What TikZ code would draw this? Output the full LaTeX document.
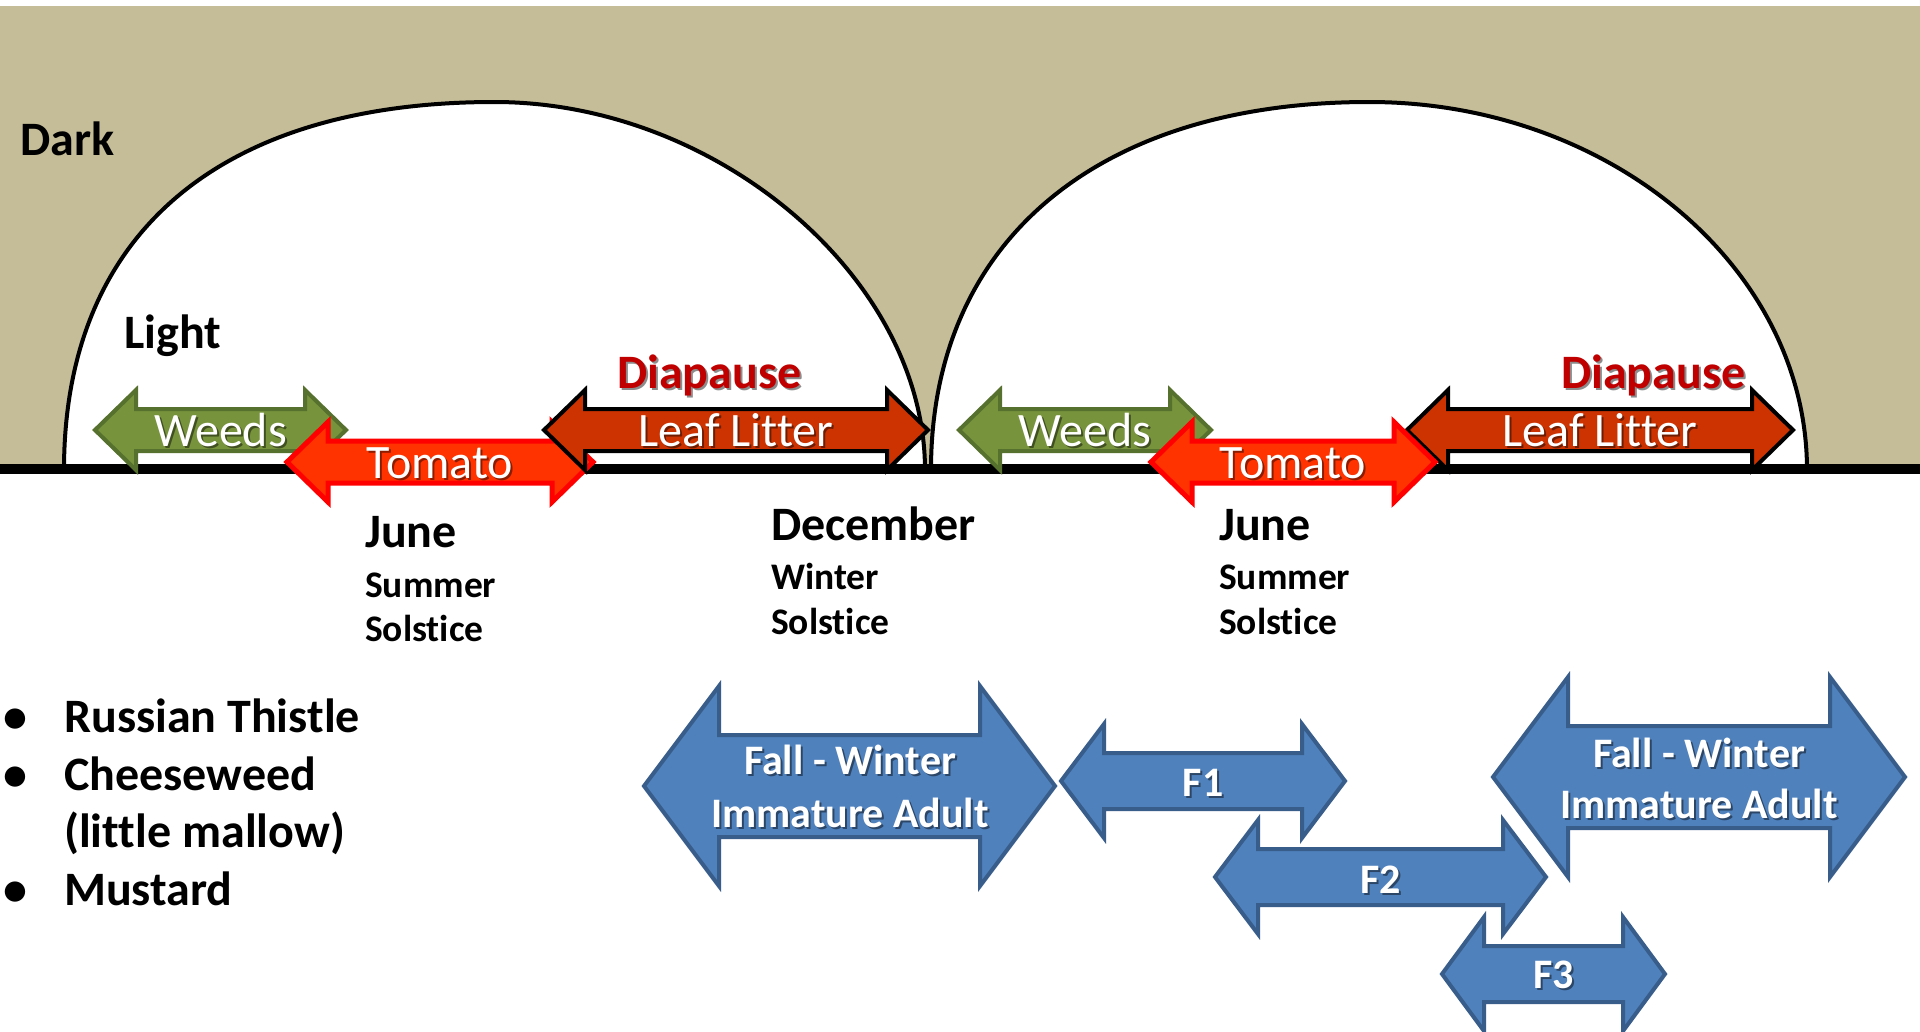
\documentclass[tikz,border=0pt]{standalone}
\usepackage{fontspec}
\setmainfont{Carlito}[Ligatures=NoCommon]
\definecolor{tanbg}{HTML}{C4BD97}
\definecolor{weedfill}{HTML}{77933C}
\definecolor{weedline}{HTML}{56702E}
\definecolor{tomfill}{HTML}{FF3300}
\definecolor{tomline}{HTML}{FF0000}
\definecolor{litfill}{HTML}{CC3300}
\definecolor{diared}{HTML}{C00000}
\definecolor{bluefill}{HTML}{4F81BD}
\definecolor{blueline}{HTML}{385D8A}
\newcommand\dbarrow[7]{%
  \path[#1] (#2,#4) -- ({#2+#5},{#4-#6}) -- ({#2+#5},{#4-#7}) -- ({#3-#5},{#4-#7})
    -- ({#3-#5},{#4-#6}) -- (#3,#4) -- ({#3-#5},{#4+#6}) -- ({#3-#5},{#4+#7})
    -- ({#2+#5},{#4+#7}) -- ({#2+#5},{#4+#6}) -- cycle;}
\newcommand\shtext[4]{% name, position, style, text
  \node[#3, text=black, opacity=.45, xshift=2pt, yshift=-2pt] at (#2) {#4};
  \node[#3] (#1) at (#2) {#4};}
\tikzset{
  arcline/.style={draw=black, line width=4pt, fill=white},
  weedsarrow/.style={fill=weedfill, draw=weedline, line width=4pt},
  tomarrow/.style={fill=tomfill, draw=tomline, line width=5pt},
  litarrow/.style={fill=litfill, draw=black, line width=4pt},
  bluearrow/.style={fill=bluefill, draw=blueline, line width=4pt},
  lbl/.style={font=\fontsize{48}{52}\selectfont\bfseries, inner sep=0pt, anchor=base west},
  lblsub/.style={font=\fontsize{37.5}{42}\selectfont\bfseries, inner sep=0pt, anchor=base west},
  arrowtxt/.style={font=\fontsize{48}{52}\selectfont, text=white, inner sep=0pt, anchor=base},
  bluetxt/.style={font=\fontsize{42}{48}\selectfont\bfseries, text=white, inner sep=0pt, anchor=base},
  diatxt/.style={font=\fontsize{48}{52}\selectfont\bfseries, text=diared, inner sep=0pt, anchor=base west},
}
\begin{document}
\begin{tikzpicture}[x=1pt,y=-1pt]
\useasboundingbox (0,0) rectangle (1920,1031);
\fill[white] (0,0) rectangle (1920,1031);
\fill[tanbg] (0,6) rectangle (1920,469);
% day-length arcs
\draw[arcline] (64,470) .. controls (64,234.5) and (219,102) .. (494.5,102)
   .. controls (718,102) and (925,279) .. (925,470) -- cycle;
\draw[arcline] (931,470) .. controls (931,242) and (1097,102) .. (1369,102)
   .. controls (1610,102) and (1807,268) .. (1807,470) -- cycle;
% ground line
\draw[line width=10pt] (0,469) -- (1920,469);
% labels on the sky
\node[lbl] (dark) at (20,155) {Dark};
\node[lbl] (light) at (124,348) {Light};
\shtext{dia1}{617,388}{diatxt}{Diapause}
\shtext{dia2}{1561,388}{diatxt}{Diapause}
% first year arrows
\dbarrow{weedsarrow}{95}{346}{430}{41}{40}{21}
\shtext{weeds1}{220.5,446}{arrowtxt}{Weeds}
\dbarrow{tomarrow}{287}{593}{462}{41}{40}{21}
\shtext{tom1}{440,478}{arrowtxt}{Tomato}
\dbarrow{litarrow}{544}{928}{430}{41}{40}{21}
\shtext{lit1}{736,446}{arrowtxt}{Leaf Litter}
% second year arrows
\dbarrow{weedsarrow}{959}{1211}{430}{41}{40}{21}
\shtext{weeds2}{1085,446}{arrowtxt}{Weeds}
\dbarrow{litarrow}{1407}{1793}{430}{41}{40}{21}
\shtext{lit2}{1600,446}{arrowtxt}{Leaf Litter}
\dbarrow{tomarrow}{1151}{1435}{462}{41}{40}{21}
\shtext{tom2}{1293,478}{arrowtxt}{Tomato}
% solstice labels
\node[lbl] (june1) at (365,547) {June};
\node[lblsub] (summer1) at (365,597) {Summer};
\node[lblsub] (solst1) at (365,641) {Solstice};
\node[lbl] (dec) at (771,540) {December};
\node[lblsub] (winter) at (771,589) {Winter};
\node[lblsub] (solst2) at (771,634) {Solstice};
\node[lbl] (june2) at (1219,540) {June};
\node[lblsub] (summer2) at (1219,589) {Summer};
\node[lblsub] (solst3) at (1219,634) {Solstice};
% weed list
\node[lbl] (bul1) at (3,732) {•};
\node[lbl] (item1) at (64,732) {Russian Thistle};
\node[lbl] (bul2) at (3,790) {•};
\node[lbl] (item2) at (64,790) {Cheeseweed};
\node[lbl] (item2b) at (64,847) {(little mallow)};
\node[lbl] (bul3) at (3,905) {•};
\node[lbl] (item3) at (64,905) {Mustard};
% generations
\dbarrow{bluearrow}{644}{1055}{786}{75}{100}{51}
\shtext{fw1a}{850,774}{bluetxt}{Fall - Winter}
\shtext{fw1b}{850,827}{bluetxt}{Immature Adult}
\dbarrow{bluearrow}{1061}{1345}{781}{43}{57}{28}
\shtext{f1}{1203,796}{bluetxt}{F1}
\dbarrow{bluearrow}{1215}{1546}{877}{43}{57}{28}
\shtext{f2}{1380.5,893}{bluetxt}{F2}
\dbarrow{bluearrow}{1442}{1665}{974}{42}{57}{28}
\shtext{f3}{1553.5,988}{bluetxt}{F3}
\dbarrow{bluearrow}{1493}{1905}{777}{75}{100}{51}
\shtext{fw2a}{1699,767}{bluetxt}{Fall - Winter}
\shtext{fw2b}{1699,818}{bluetxt}{Immature Adult}
\end{tikzpicture}
\end{document}
